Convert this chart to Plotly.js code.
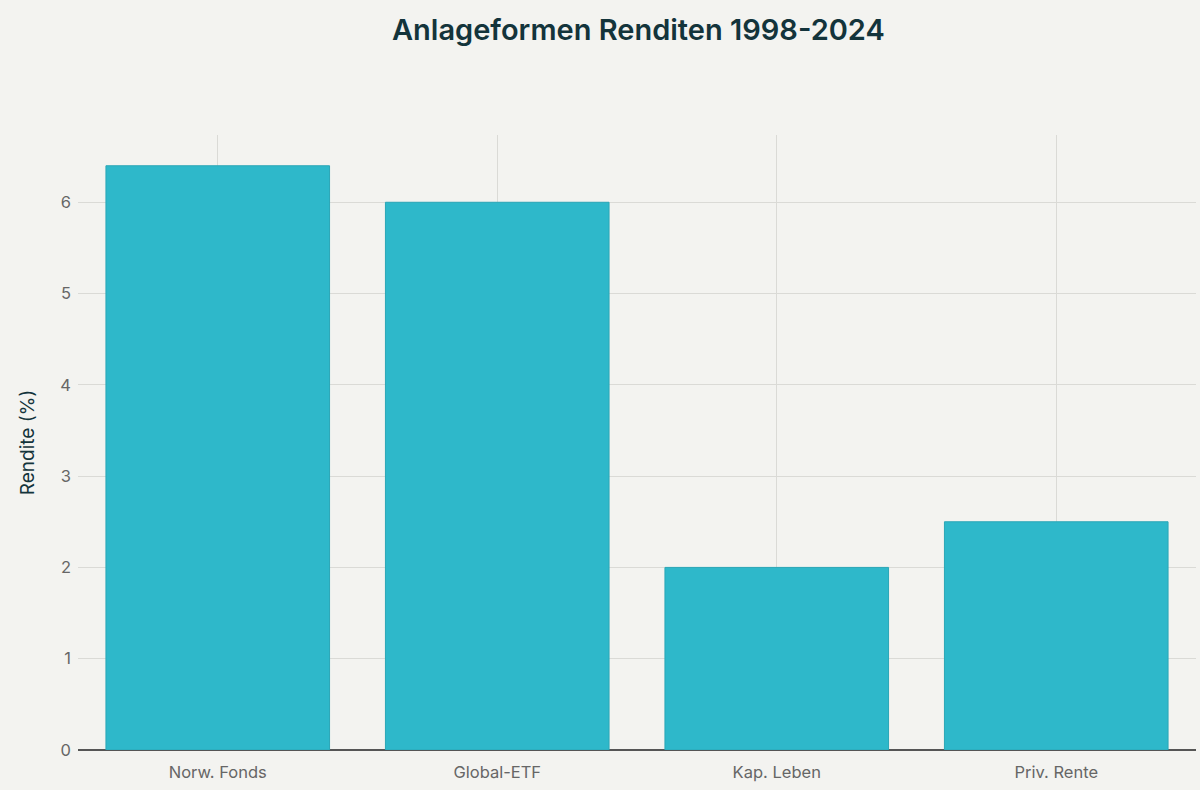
<!DOCTYPE html>
<html>
<head>
<meta charset="utf-8">
<script src="https://cdn.plot.ly/plotly-3.0.1.min.js"></script>
<style>html,body{margin:0;padding:0;background:#F3F3F0;}#chart{width:1200px;height:790px;}</style>
</head>
<body>
<div id="chart"></div>
<script>
const categories = ["Norw. Fonds", "Global-ETF", "Kap. Leben", "Priv. Rente"];
const returns = [6.4, 6.0, 2.0, 2.5];

const trace = {
  type: "bar",
  x: categories,
  y: returns,
  marker: { color: "#2EB8CA", line: { color: "#2AA6B6", width: 1 } },
  hoverinfo: "x+y"
};

const layout = {
  width: 1200,
  height: 790,
  paper_bgcolor: "#F3F3F0",
  plot_bgcolor: "#F3F3F0",
  margin: { l: 78, r: 4, t: 135, b: 40 },
  bargap: 0.2,
  title: {
    text: "Anlageformen Renditen 1998-2024",
    x: 0.532, xanchor: "center", y: 0.962, yanchor: "middle",
    font: { family: "Inter, Roboto, sans-serif", size: 29, color: "#13343B", weight: 600 }
  },
  font: { family: "Inter, Roboto, sans-serif", color: "#666666", size: 16 },
  xaxis: {
    showgrid: true, gridcolor: "#DADAD6", gridwidth: 1,
    tickfont: { size: 16.5, color: "#666666" },
    ticks: "", showline: false, ticklabelstandoff: 10
  },
  yaxis: {
    title: { text: "Rendite (%)", font: { size: 19, color: "#13343B" }, standoff: 20 },
    showgrid: true, gridcolor: "#DADAD6", gridwidth: 1,
    zeroline: true, zerolinecolor: "#555555", zerolinewidth: 1.5,
    tickfont: { size: 16.5, color: "#666666" },
    ticks: "", dtick: 1, ticklabelstandoff: 6
  },
  showlegend: false
};

Plotly.newPlot("chart", [trace], layout, { displayModeBar: false });
</script>
</body>
</html>
